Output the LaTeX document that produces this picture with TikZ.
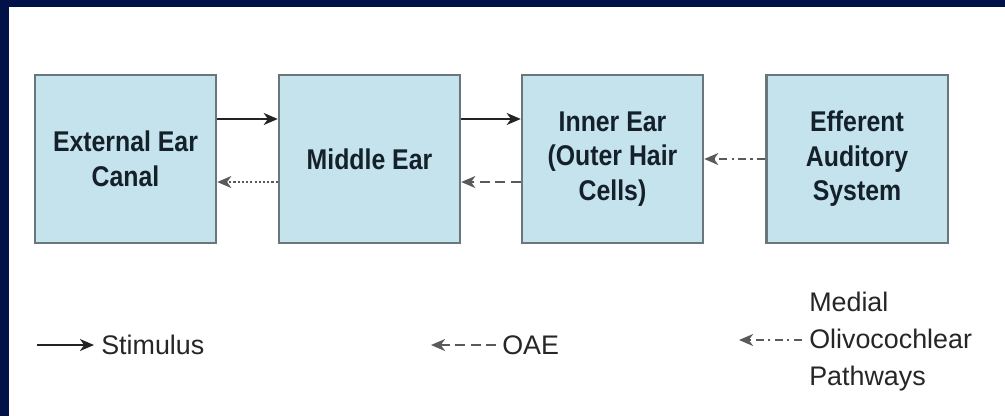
\documentclass[tikz,border=0pt]{standalone}
\usepackage{fontspec}
\setmainfont{Liberation Sans}
\newfontfamily\earfont[FakeStretch=0.87]{Liberation Sans}
\usetikzlibrary{arrows.meta,calc,positioning}

\definecolor{framenavy}{RGB}{0,18,72}
\definecolor{boxblue}{RGB}{197,227,237}
\definecolor{boxedge}{RGB}{105,118,124}
\definecolor{inkdark}{RGB}{20,32,42}
\definecolor{arrowgray}{RGB}{35,35,35}

\begin{document}
\begin{tikzpicture}[x=0.025cm,y=-0.025cm,>={Stealth[length=10pt,width=8.5pt,inset=3pt]},
	earbox/.style={draw=boxedge,line width=1.6pt,fill=boxblue,minimum width=4.53cm,minimum height=4.2cm,
		align=center,text=inkdark,font=\earfont\bfseries\fontsize{20.3}{24.5}\selectfont},
	legendtext/.style={text=black!85,font=\fontsize{19.1}{26.3}\selectfont,inner sep=0pt},
	stim/.style={->,line width=1.3pt,draw=arrowgray},
	oae/.style={->,line width=1.3pt,draw=arrowgray!75,dash pattern=on 7pt off 4pt},
	echo/.style={->,line width=1.3pt,draw=arrowgray!75,dash pattern=on 1.5pt off 1.5pt},
	moc/.style={->,line width=1.3pt,draw=arrowgray!75,dash pattern=on 6pt off 3pt on 1.5pt off 3pt}]
		
		% Frame
		\fill[framenavy] (0,0) rectangle (1005,416);
		\fill[white] (9,7) rectangle (1005,416);
		\useasboundingbox (0,0) rectangle (1005,416);
		
		% The four stages
		\node[earbox] (outer) at (125.5,159) {External Ear\\Canal};
		\node[earbox] (middle) at (369.5,159) {Middle Ear};
		\node[earbox] (inner) at (612.5,159) {Inner Ear\\(Outer Hair\\Cells)};
		\node[earbox] (efferent) at (857,159) {Efferent\\Auditory\\System};
		
		% Forward stimulus
		\draw[stim] ([yshift=1cm]outer.east) -- ([yshift=1cm]middle.west);
		\draw[stim] ([yshift=1cm]middle.east) -- ([yshift=1cm]inner.west);
		
		% Emissions travelling back
		\draw[oae] ([yshift=-0.575cm]inner.west) -- ([yshift=-0.575cm]middle.east);
		\draw[echo] ([yshift=-0.575cm]middle.west) -- ([yshift=-0.575cm]outer.east);
		
		% Efferent control
		\draw[moc] (efferent.west) -- (inner.east);
		
		% Legend
		\coordinate (stimA) at (37,345);
		\coordinate (stimB) at (94,345);
		\draw[stim] (stimA) -- (stimB);
		\node[legendtext,anchor=west] (stimlabel) at (101,345) {Stimulus};
		
		\coordinate (oaeA) at (496,345);
		\coordinate (oaeB) at (431,345);
		\draw[oae] (oaeA) -- (oaeB);
		\node[legendtext,anchor=west] (oaelabel) at (502,345) {OAE};
		
		\coordinate (mocA) at (802,340);
		\coordinate (mocB) at (739,340);
		\draw[moc] (mocA) -- (mocB);
		\node[legendtext,anchor=west,align=left] (moclabel) at (809,342) {Medial\\Olivocochlear\\Pathways};
		
	\end{tikzpicture}
\end{document}
